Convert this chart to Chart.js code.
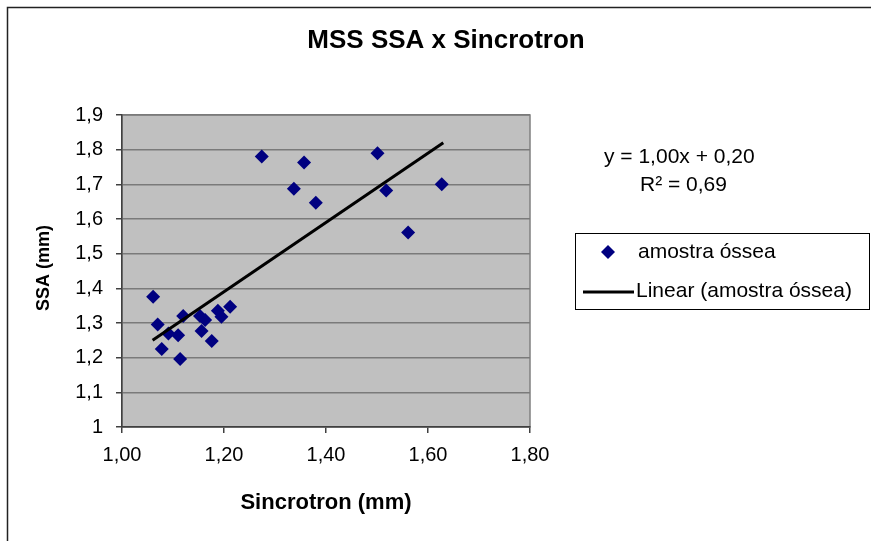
<!DOCTYPE html>
<html>
<head>
<meta charset="utf-8">
<script src="https://cdn.jsdelivr.net/npm/chart.js@4"></script>
<style>
  body { margin: 0; background: #fff; }
  #wrap { width: 871px; height: 541px; }
</style>
</head>
<body>
<div id="wrap"><canvas id="myChart" width="871" height="541"></canvas></div>
<script>
// data
const sincrotron = [1.061, 1.070, 1.078, 1.091, 1.110, 1.114, 1.120, 1.153, 1.156, 1.163, 1.176,
                    1.188, 1.195, 1.212, 1.274, 1.357, 1.337, 1.380, 1.501, 1.518, 1.561, 1.627];
const ssa        = [1.376, 1.296, 1.225, 1.270, 1.265, 1.196, 1.320, 1.320, 1.277, 1.309, 1.248,
                    1.335, 1.318, 1.347, 1.780, 1.763, 1.687, 1.647, 1.790, 1.682, 1.561, 1.700];
const trendX = [1.06, 1.63];
const trendY = [1.25, 1.82];
const equationLines = ['y = 1,00x + 0,20', 'R\u00b2 = 0,69'];
const seriesLabel = 'amostra óssea';
const trendLabel = 'Linear (amostra óssea)';

const ctx = document.getElementById('myChart').getContext('2d');
const FONT = '"Liberation Sans", Arial, sans-serif';

const decorPlugin = {
    id: 'decor',
    beforeDraw(chart) {
        const c = chart.ctx;
        const a = chart.chartArea;
        c.save();
        c.fillStyle = '#ffffff';
        c.fillRect(0, 0, chart.width, chart.height);
        // outer frame (cropped at right / bottom)
        c.strokeStyle = '#222';
        c.lineWidth = 1.5;
        c.beginPath();
        c.moveTo(7.5, chart.height + 5);
        c.lineTo(7.5, 7.5);
        c.lineTo(chart.width + 5, 7.5);
        c.stroke();
        // plot area
        c.fillStyle = '#C0C0C0';
        c.fillRect(a.left, a.top, a.right - a.left, a.bottom - a.top);
        c.strokeStyle = '#808080';
        c.lineWidth = 1.5;
        c.strokeRect(a.left, a.top, a.right - a.left, a.bottom - a.top);
        c.restore();
    },
    afterDraw(chart) {
        const c = chart.ctx;
        const a = chart.chartArea;
        c.save();
        c.fillStyle = '#000';
        c.textBaseline = 'middle';

        // title
        c.textAlign = 'center';
        c.font = 'bold 26px ' + FONT;
        c.fillText('MSS SSA x Sincrotron', 446, 41);

        // axis titles
        c.font = 'bold 22px ' + FONT;
        c.fillText('Sincrotron (mm)', (a.left + a.right) / 2, 503);
        c.save();
        c.translate(44, 268);
        c.rotate(-Math.PI / 2);
        c.font = 'bold 18px ' + FONT;
        c.fillText('SSA (mm)', 0, 0);
        c.restore();

        // trend equation
        c.textAlign = 'left';
        c.font = '21px ' + FONT;
        c.fillText(equationLines[0], 604, 157);
        c.fillText(equationLines[1], 640, 185);

        // legend
        c.strokeStyle = '#000';
        c.lineWidth = 1;
        c.strokeRect(575.5, 233.5, 294, 76);
        c.fillStyle = '#000080';
        c.beginPath();
        c.moveTo(608, 245);
        c.lineTo(615, 252);
        c.lineTo(608, 259);
        c.lineTo(601, 252);
        c.closePath();
        c.fill();
        c.strokeStyle = '#000';
        c.lineWidth = 3;
        c.beginPath();
        c.moveTo(583, 292);
        c.lineTo(634, 292);
        c.stroke();
        c.fillStyle = '#000';
        c.fillText(seriesLabel, 638, 252);
        c.fillText(trendLabel, 636, 291);
        c.restore();
    }
};

const myChart = new Chart(ctx, {
    type: 'scatter',
    data: {
        datasets: [
            {
                label: trendLabel,
                type: 'line',
                data: trendX.map((x, i) => ({x: x, y: trendY[i]})),
                borderColor: '#000000',
                borderWidth: 3,
                pointRadius: 0,
                fill: false,
                order: 0
            },
            {
                label: seriesLabel,
                data: sincrotron.map((x, i) => ({x: x, y: ssa[i]})),
                pointStyle: 'rectRot',
                pointRadius: 7,
                backgroundColor: '#000080',
                borderColor: '#000080',
                borderWidth: 0,
                order: 1
            }
        ]
    },
    options: {
        responsive: false,
        animation: false,
        layout: {
            padding: {left: 0, top: 115, right: 341, bottom: 0}
        },
        plugins: {
            legend: {display: false},
            title: {display: false},
            tooltip: {enabled: false}
        },
        scales: {
            x: {
                type: 'linear',
                min: 1,
                max: 1.8,
                afterFit: (scale) => { scale.height = 114; },
                grid: {
                    drawOnChartArea: false,
                    drawTicks: true,
                    tickLength: 6,
                    color: '#404040',
                    lineWidth: 1.5
                },
                border: {color: '#404040', width: 1.5},
                ticks: {
                    stepSize: 0.2,
                    padding: 10,
                    color: '#000',
                    font: {size: 20, family: FONT},
                    callback: (v) => v.toFixed(2).replace('.', ',')
                }
            },
            y: {
                type: 'linear',
                min: 1,
                max: 1.9,
                afterFit: (scale) => { scale.width = 122; },
                grid: {
                    color: '#7a7a7a',
                    lineWidth: 1.5,
                    tickLength: 6,
                    tickColor: '#404040'
                },
                border: {color: '#404040', width: 1.5},
                ticks: {
                    stepSize: 0.1,
                    padding: 13,
                    color: '#000',
                    font: {size: 20, family: FONT},
                    callback: (v) => String(Math.round(v * 10) / 10).replace('.', ',')
                }
            }
        }
    },
    plugins: [decorPlugin]
});
</script>
</body>
</html>
